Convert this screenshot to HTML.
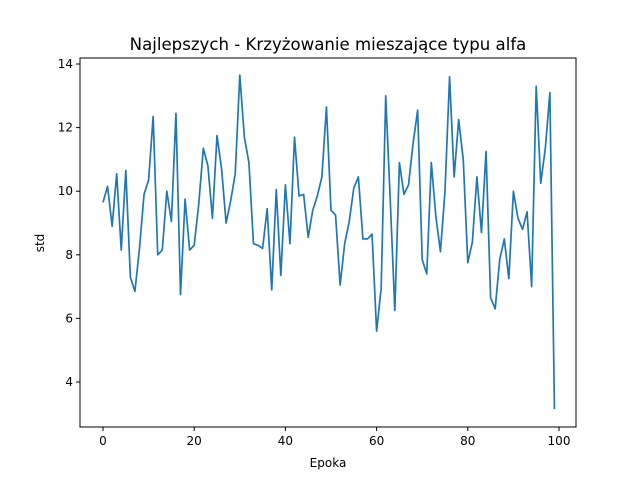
<!DOCTYPE html>
<html><head><meta charset="utf-8"><style>
body{margin:0;background:#fff;}
svg{display:block;font-family:"DejaVu Sans","Liberation Sans",sans-serif;}
</style></head><body>
<svg id="chart" width="640" height="480" viewBox="0 0 640 480">
<rect width="640" height="480" fill="#fff"/>
<text x="328" y="50" text-anchor="middle" font-size="16.6">Najlepszych - Krzyżowanie mieszające typu alfa</text>
<g id="axes"></g>
<text x="328" y="467" text-anchor="middle" font-size="12">Epoka</text>
<text transform="translate(44,243) rotate(-90)" text-anchor="middle" font-size="12">std</text>
</svg>
<script>
const values=[9.65,10.15,8.9,10.55,8.15,10.65,7.3,6.85,8.2,9.9,10.35,12.35,8.0,8.15,10.0,9.05,12.45,6.75,9.75,8.15,8.3,9.6,11.35,10.8,9.15,11.75,10.7,9.0,9.7,10.55,13.65,11.7,10.9,8.35,8.3,8.2,9.45,6.9,10.05,7.35,10.2,8.35,11.7,9.85,9.9,8.55,9.4,9.85,10.45,12.65,9.4,9.25,7.05,8.35,9.05,10.1,10.45,8.5,8.5,8.65,5.6,6.95,13.0,9.7,6.25,10.9,9.9,10.2,11.5,12.55,7.85,7.4,10.9,9.2,8.1,10.0,13.6,10.45,12.25,11.0,7.75,8.4,10.45,8.7,11.25,6.65,6.3,7.85,8.5,7.25,10.0,9.15,8.8,9.35,7.0,13.3,10.25,11.35,13.1,3.15];
const xTicks=[0,20,40,60,80,100];
const yTicks=[4,6,8,10,12,14];
const NS="http://www.w3.org/2000/svg";
const L=80,R=576,T=58,B=427;
const xs=v=>103+(v-0)*(559-103)/100;
const ys=v=>64+(14-v)*(382-64)/10;
const g=document.getElementById('axes');
function mk(t,a){const e=document.createElementNS(NS,t);for(const k in a)e.setAttribute(k,a[k]);g.appendChild(e);return e;}
const line=mk('polyline',{points:values.map((v,i)=>xs(i)+','+ys(v)).join(' '),fill:'none',stroke:'#1f77b4','stroke-width':1.7,'stroke-linejoin':'round'});


const frame=mk('rect',{x:L,y:T,width:R-L,height:B-T,fill:'none',stroke:'#000','stroke-width':1});


xTicks.forEach(t=>{
 const tk=mk('line',{x1:xs(t),x2:xs(t),y1:B,y2:B+4,stroke:'#000'});
 
 
 const lb=mk('text',{x:xs(t),y:B+18,'text-anchor':'middle','font-size':12});
 lb.textContent=t;
 
 
});
yTicks.forEach(t=>{
 const tk=mk('line',{x1:L-4,x2:L,y1:ys(t),y2:ys(t),stroke:'#000'});
 
 
 const lb=mk('text',{x:L-7,y:ys(t)+4,'text-anchor':'end','font-size':12});
 lb.textContent=t;
 
 
});
</script>
</body></html>
